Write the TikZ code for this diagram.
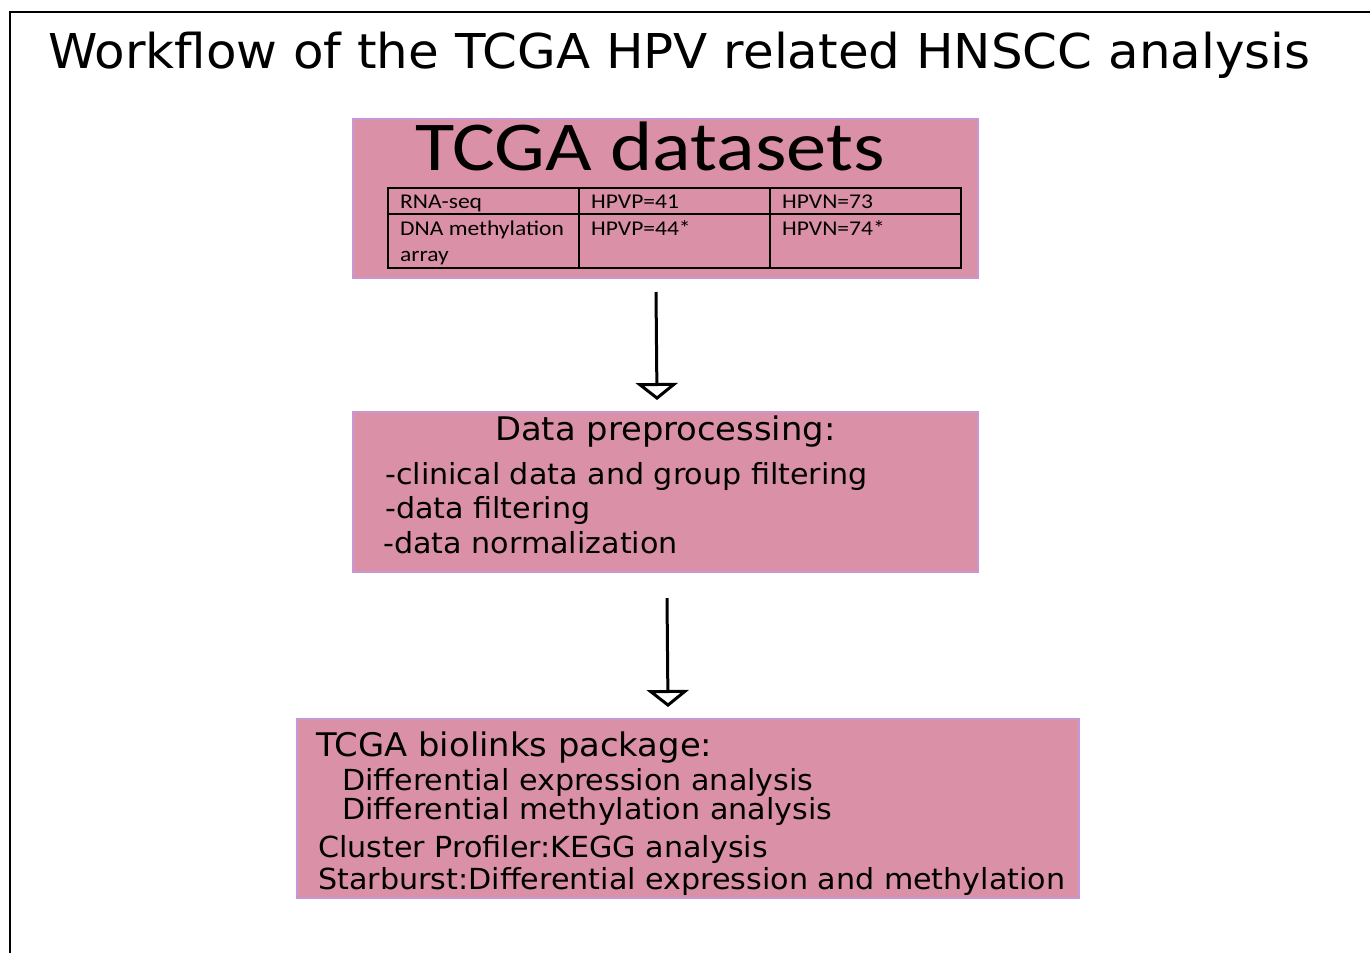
\documentclass[tikz,border=0pt]{standalone}
\usepackage{fontspec}
\setmainfont{DejaVu Sans}
\newfontfamily\carl[FakeStretch=1.12]{Carlito}
\newfontfamily\carlbig[FakeStretch=1.15]{Carlito}
\newfontfamily\dvs[FakeStretch=1.04]{DejaVu Sans}
\usetikzlibrary{arrows.meta}
\definecolor{boxfill}{RGB}{218,144,167}
\definecolor{boxline}{RGB}{200,150,210}
\begin{document}
\begin{tikzpicture}[x=1pt,y=-1pt,
  box/.style={draw=boxline, fill=boxfill, line width=1.5pt, inner sep=0pt, anchor=north west},
  txt/.style={anchor=base west, inner sep=0pt, font=\dvs\fontsize{29}{29}\selectfont},
  hdr/.style={anchor=base west, inner sep=0pt, font=\dvs\fontsize{32.5}{32.5}\selectfont},
  tab/.style={anchor=base west, inner sep=0pt, font=\carl\fontsize{21}{21}\selectfont},
  flow/.style={line width=3pt, -{Triangle[open, width=42pt, length=17pt, line width=3pt]}}]
\useasboundingbox (0,0) rectangle (1370,953);
\fill[white] (0,0) rectangle (1370,953);
\draw[line width=2pt] (10,953) -- (10,12) -- (1370,12);
\node[anchor=base west, inner sep=0pt, font=\dvs\fontsize{48}{48}\selectfont] (title) at (48,68) {Workflow of the TCGA HPV related HNSCC analysis};
% box 1
\node[box, minimum width=625pt, minimum height=159pt] (b1) at (352,118) {};
\node[anchor=base west, inner sep=0pt, font=\carlbig\fontsize{70}{70}\selectfont] (t1) at (415,170) {TCGA datasets};
\draw[line width=1.8pt] (388,188) rectangle (961,268);
\draw[line width=1.8pt] (388,214) -- (961,214) (579,188) -- (579,268) (770,188) -- (770,268);
\node[tab] (c11) at (400,208) {RNA-seq};
\node[tab] (c12) at (591,208) {HPVP=41};
\node[tab] (c13) at (782,208) {HPVN=73};
\node[tab] (c21) at (400,235) {DNA methylation};
\node[tab] (c21b) at (400,261) {array};
\node[tab] (c22) at (591,235) {HPVP=44*};
\node[tab] (c23) at (782,235) {HPVN=74*};
% box 2
\node[box, minimum width=625pt, minimum height=160pt] (b2) at (352,411) {};
\node[hdr] (h2) at (495,440) {Data preprocessing:};
\node[txt] (l21) at (385,484) {-clinical data and group filtering};
\node[txt] (l22) at (385,518) {-data filtering};
\node[txt] (l23) at (383,553) {-data normalization};
% box 3
\node[box, minimum width=782pt, minimum height=179pt] (b3) at (296,718) {};
\node[hdr] (h3) at (316,756) {TCGA biolinks package:};
\node[txt] (l31) at (342,790) {Differential expression analysis};
\node[txt] (l32) at (342,819) {Differential methylation analysis};
\node[txt] (l33) at (318,857) {Cluster Profiler:KEGG analysis};
\node[txt] (l34) at (318,889) {Starburst:Differential expression and methylation};
% arrows
\coordinate (a1s) at (656,292);
\coordinate (a1e) at (657,400);
\coordinate (a2s) at (667,598);
\coordinate (a2e) at (668,707);
\draw[flow] (a1s) -- (a1e);
\draw[flow] (a2s) -- (a2e);
\end{tikzpicture}
\end{document}
